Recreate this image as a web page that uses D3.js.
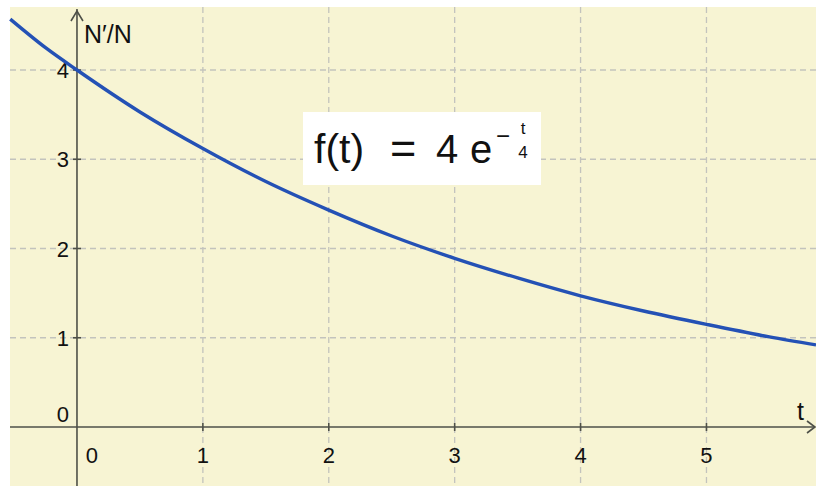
<!DOCTYPE html>
<html>
<head>
<meta charset="utf-8">
<script src="https://cdn.jsdelivr.net/npm/d3@7"></script>
<style>
  body { margin: 0; background: #fff; }
  svg text { font-family: "Liberation Sans", Arial, sans-serif; fill: #111; }
</style>
</head>
<body>
<svg id="chart" width="816" height="486"></svg>
<script>
// values
const tValues = [-0.53, -0.25, 0, 0.5, 1, 1.5, 2, 2.5, 3, 3.5, 4, 4.5, 5, 5.5, 5.87];
const fValues = [4.57, 4.25, 4.0, 3.53, 3.12, 2.75, 2.43, 2.14, 1.89, 1.67, 1.47, 1.30, 1.15, 1.01, 0.92];
const xTicks = [0, 1, 2, 3, 4, 5];
const yTicks = [0, 1, 2, 3, 4];
const xGrid = [1, 2, 3, 4, 5];
const yGrid = [1, 2, 3, 4];

const svg = d3.select('#chart');
const plot = { left: 10, top: 7, right: 816, bottom: 486 };

const x = d3.scaleLinear().domain([-0.532, 5.87]).range([plot.left, plot.right]);
const y = d3.scaleLinear().domain([4.706, -0.661]).range([plot.top, plot.bottom]);

svg.append('rect')
  .attr('x', plot.left).attr('y', plot.top)
  .attr('width', plot.right - plot.left).attr('height', plot.bottom - plot.top)
  .attr('fill', '#f7f4d3');

const grid = svg.append('g')
  .attr('stroke', '#c3c3bd')
  .attr('stroke-width', 1.3)
  .attr('stroke-dasharray', '6,4');
grid.selectAll('.vg').data(xGrid).join('line')
  .attr('x1', d => x(d)).attr('x2', d => x(d))
  .attr('y1', plot.top).attr('y2', plot.bottom);
grid.selectAll('.hg').data(yGrid).join('line')
  .attr('y1', d => y(d)).attr('y2', d => y(d))
  .attr('x1', plot.left).attr('x2', plot.right);

// axes
const axisColor = '#4e5048';
const axes = svg.append('g').attr('stroke', axisColor).attr('stroke-width', 1.6).attr('fill', 'none');
axes.append('line')
  .attr('x1', plot.left).attr('x2', plot.right - 1)
  .attr('y1', y(0)).attr('y2', y(0));
axes.append('line')
  .attr('x1', x(0)).attr('x2', x(0))
  .attr('y1', plot.top + 2).attr('y2', plot.bottom);
// arrow heads
axes.append('path')
  .attr('d', `M${x(0) - 6},${plot.top + 14}L${x(0)},${plot.top + 4}L${x(0) + 6},${plot.top + 14}`);
axes.append('path')
  .attr('d', `M${plot.right - 9},${y(0) - 6}L${plot.right - 1},${y(0)}L${plot.right - 9},${y(0) + 6}`);

// ticks
axes.selectAll('.xt').data(xTicks.filter(d => d !== 0)).join('line')
  .attr('x1', d => x(d)).attr('x2', d => x(d))
  .attr('y1', y(0) - 4).attr('y2', y(0) + 4);
axes.selectAll('.yt').data(yTicks.filter(d => d !== 0)).join('line')
  .attr('y1', d => y(d)).attr('y2', d => y(d))
  .attr('x1', x(0) - 4).attr('x2', x(0) + 4);

// tick labels
svg.selectAll('.xl').data(xTicks).join('text')
  .attr('x', d => d === 0 ? x(0) + 15 : x(d))
  .attr('y', y(0) + 36)
  .attr('text-anchor', 'middle')
  .attr('font-size', 22)
  .text(d => d);
svg.selectAll('.yl').data(yTicks).join('text')
  .attr('x', x(0) - 8)
  .attr('y', d => d === 0 ? y(0) - 5 : y(d) + 8)
  .attr('text-anchor', 'end')
  .attr('font-size', 22)
  .text(d => d);

svg.append('text').attr('x', x(0) + 7).attr('y', 43).attr('font-size', 25).text('N\u2032/N');
svg.append('text').attr('x', plot.right - 19).attr('y', y(0) - 7).attr('font-size', 25).text('t');

// curve
const line = d3.line()
  .x((d, i) => x(tValues[i]))
  .y(d => y(d))
  .curve(d3.curveMonotoneX);
svg.append('path')
  .datum(fValues)
  .attr('d', line)
  .attr('fill', 'none')
  .attr('stroke', '#2451b5')
  .attr('stroke-width', 3.4);

// formula box
const box = svg.append('g').attr('transform', 'translate(303,112)');
box.append('rect').attr('width', 238).attr('height', 73).attr('fill', '#fff');
const formula = [
  { s: 'f(t)', x: 11, y: 51, size: 41, anchor: 'start' },
  { s: '=', x: 87, y: 51, size: 45, anchor: 'start' },
  { s: '4', x: 133, y: 51, size: 40, anchor: 'start' },
  { s: 'e', x: 167, y: 51, size: 40, anchor: 'start' },
  { s: '\u2212', x: 193, y: 32, size: 24, anchor: 'start' },
  { s: 't', x: 220, y: 22, size: 17, anchor: 'middle' },
  { s: '4', x: 220, y: 46, size: 17, anchor: 'middle' }
];
box.selectAll('text').data(formula).join('text')
  .attr('x', d => d.x).attr('y', d => d.y)
  .attr('font-size', d => d.size)
  .attr('text-anchor', d => d.anchor)
  .text(d => d.s);
</script>
</body>
</html>
